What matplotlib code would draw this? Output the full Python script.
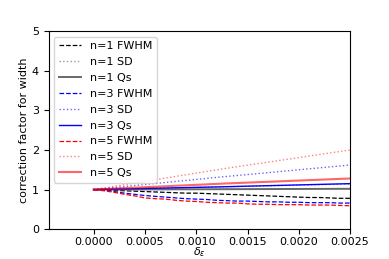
import matplotlib
matplotlib.use("Agg")
import matplotlib.pyplot as plt
import numpy as np

plt.rcParams['font.size'] = 8

x_step = [i * 0.0001 for i in range(26)]
fwhm_n1 = [1.0, 0.99, 0.98, 0.97, 0.96, 0.95, 0.94, 0.93, 0.92, 0.91, 0.91, 0.90, 0.89,
           0.88, 0.87, 0.86, 0.85, 0.84, 0.83, 0.82, 0.81, 0.80, 0.80, 0.79, 0.78, 0.78]
fwhm_n3 = [1.0, 0.98, 0.95, 0.91, 0.88, 0.85, 0.83, 0.81, 0.79, 0.77, 0.76, 0.75, 0.73,
           0.72, 0.71, 0.71, 0.70, 0.69, 0.69, 0.68, 0.68, 0.67, 0.67, 0.67, 0.66, 0.66]
fwhm_n5 = [1.0, 0.97, 0.93, 0.88, 0.84, 0.79, 0.77, 0.76, 0.73, 0.71, 0.70, 0.68, 0.67,
           0.66, 0.66, 0.64, 0.63, 0.63, 0.62, 0.62, 0.62, 0.61, 0.61, 0.61, 0.60, 0.59]

x_lin = [0.0, 0.00125, 0.0025]
sd_n1 = [1.0, 1.07, 1.14]
sd_n3 = [1.0, 1.32, 1.62]
sd_n5 = [1.0, 1.52, 2.0]
qs_n1 = [1.0, 1.01, 1.02]
qs_n3 = [1.0, 1.07, 1.15]
qs_n5 = [1.0, 1.15, 1.28]

fig = plt.figure(figsize=(3.89, 2.59), dpi=100)
ax = fig.add_axes([0.125, 0.115, 0.775, 0.765])

ax.plot(x_step, fwhm_n1, color='black', ls='--', lw=0.9, label='n=1 FWHM')
ax.plot(x_lin, sd_n1, color='gray', ls=':', lw=1, alpha=0.8, label='n=1 SD')
ax.plot(x_lin, qs_n1, color='dimgray', ls='-', lw=1.4, label='n=1 Qs')
ax.plot(x_step, fwhm_n3, color='blue', ls='--', lw=0.9, label='n=3 FWHM')
ax.plot(x_lin, sd_n3, color='blue', ls=':', lw=1, alpha=0.6, label='n=3 SD')
ax.plot(x_lin, qs_n3, color='blue', ls='-', lw=1, label='n=3 Qs')
ax.plot(x_step, fwhm_n5, color='red', ls='--', lw=0.9, label='n=5 FWHM')
ax.plot(x_lin, sd_n5, color='red', ls=':', lw=1, alpha=0.5, label='n=5 SD')
ax.plot(x_lin, qs_n5, color='red', ls='-', lw=1.5, alpha=0.6, label='n=5 Qs')

ax.set_xlim(-0.00044, 0.0025)
ax.set_ylim(0, 5)
ax.set_xticks([0, 0.0005, 0.001, 0.0015, 0.002, 0.0025])
ax.set_xticklabels(['0.0000', '0.0005', '0.0010', '0.0015', '0.0020', '0.0025'])
ax.set_yticks([0, 1, 2, 3, 4, 5])
ax.tick_params(axis='x', pad=2)
ax.set_xlabel(r'$\delta_\varepsilon$', labelpad=-1, fontsize=8)
ax.set_ylabel('correction factor for width', labelpad=2)
ax.legend(loc='upper left', fontsize=8, handlelength=2.0, labelspacing=0.53)

fig.savefig('out.png', dpi=100)
